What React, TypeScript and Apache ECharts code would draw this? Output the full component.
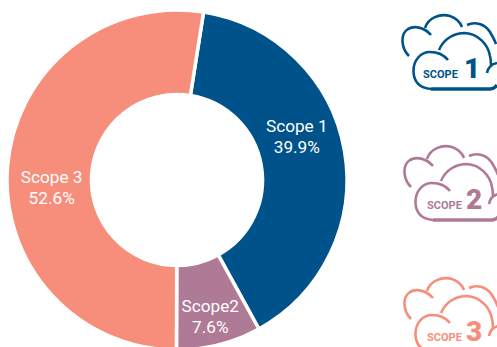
import React, { useEffect, useRef } from "react";
import * as echarts from "echarts";

const categories = ["Scope 1", "Scope2", "Scope 3"];
const percentLabels = ["39.9%", "7.6%", "52.6%"];
const values = [39.5, 8.05, 52.45];
const colors = ["#00538A", "#AF7A95", "#F78E7B"];
const labelShifts = [[-9, -21], [1, 10], [5, 18]];
const cloudTitles = ["1", "2", "3"];
const cloudOrigins = [[390, 0], [392, 131], [392, 263]];

const cloudPath =
  "M19 56 C11 48 10 34 18 29 C25 25 35 28 41 35 M35 28 C38 18 50 13 60 16 C66 18 70 22 72 27 " +
  "M77 25 C85 21 95 24 100 32 C103 37 105 41 106 44 " +
  "M41 89 C30 88 24 82 23.5 72 C23 60 31 52 40 52 C48 52 54 55 58 60 " +
  "M49 50 C54 38 65 33 75 33 C88 34 98 44 100 56 C101 60 101 63 101 65 " +
  "M97 73 C98 68 101 64 107 63";
const cloudBasePath = "M41 89 L100 89 C103 89 105 88 107 85";
echarts.graphic.registerShape("cloudIcon", echarts.graphic.extendPath(cloudPath as any, {}) as any);
echarts.graphic.registerShape("cloudBase", echarts.graphic.extendPath(cloudBasePath as any, {}) as any);

export default function App() {
  const ref = useRef<HTMLDivElement>(null);
  useEffect(() => {
    const chart = echarts.init(ref.current!, undefined, { renderer: "svg" });
    const graphics: any[] = [];
    cloudOrigins.forEach(([x, y], i) => {
      graphics.push({
        type: "cloudIcon",
        x,
        y,
        style: { fill: "none", stroke: colors[i], lineWidth: 2.6 },
      });
      graphics.push({
        type: "cloudBase",
        x,
        y,
        style: { fill: "none", stroke: colors[i], lineWidth: 3.4 },
      });
      graphics.push({
        type: "text",
        x: x + (i === 0 ? 33 : 35),
        y: y + 74,
        style: {
          text: "SCOPE",
          fill: colors[i],
          font: "bold 11px Roboto",
          textVerticalAlign: "middle",
        },
      });
      graphics.push({
        type: "text",
        x: x + 74,
        y: y + 68,
        style: {
          text: cloudTitles[i],
          fill: colors[i],
          font: "900 28px Roboto",
          textVerticalAlign: "middle",
        },
      });
    });
    chart.setOption({
      animation: false,
      backgroundColor: "#ffffff",
      graphic: graphics,
      series: [
        {
          type: "pie",
          center: [177, 180],
          radius: [85.5, 170],
          startAngle: 81,
          clockwise: true,
          itemStyle: { borderColor: "#ffffff", borderWidth: 3.5 },
          label: {
            show: true,
            position: "inside",
            formatter: (p: any) => `${p.name}\n${percentLabels[p.dataIndex]}`,
            color: "#ffffff",
            fontFamily: "Roboto",
            fontSize: 17.2,
            lineHeight: 21.5,
            align: "center",
          },
          labelLine: { show: false },
          emphasis: { disabled: true },
          data: categories.map((name, i) => ({
            name,
            value: values[i],
            itemStyle: { color: colors[i] },
            label: { offset: labelShifts[i] },
          })),
        },
      ],
    });
    return () => chart.dispose();
  }, []);
  return (
    <div
      ref={ref}
      style={{ position: "fixed", left: 0, top: 0, width: 497, height: 347 }}
    />
  );
}
